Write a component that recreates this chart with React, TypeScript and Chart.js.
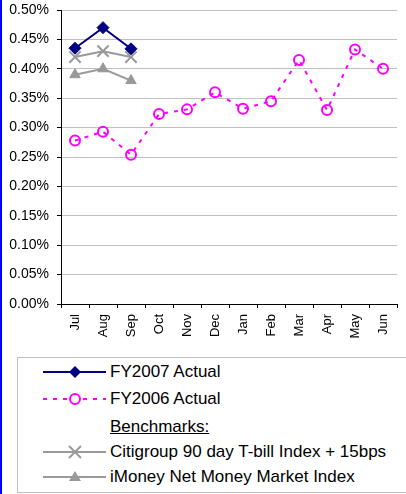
import React, { useEffect, useRef } from "react";
import { Chart, registerables } from "chart.js";

Chart.register(...registerables);

const months = ["Jul", "Aug", "Sep", "Oct", "Nov", "Dec", "Jan", "Feb", "Mar", "Apr", "May", "Jun"];
const fy2007 = [0.435, 0.47, 0.434, null, null, null, null, null, null, null, null, null];
const fy2006 = [0.278, 0.293, 0.254, 0.323, 0.331, 0.36, 0.332, 0.345, 0.415, 0.33, 0.433, 0.4];
const citi = [0.42, 0.43, 0.42, null, null, null, null, null, null, null, null, null];
const imoney = [0.39, 0.4, 0.38, null, null, null, null, null, null, null, null, null];
const yTicks = { min: 0, max: 0.5, step: 0.05 };

const NAVY = "#000080";
const MAGENTA = "#ff00ff";
const GRAY = "#999999";
const FONT = "'Liberation Sans', Arial, sans-serif";

export default function App() {
  const ref = useRef<HTMLCanvasElement | null>(null);

  useEffect(() => {
    document.body.style.margin = "0";
    const ctx = ref.current!.getContext("2d")!;
    const chart = new Chart(ctx, {
      type: "line",
      data: {
        labels: months,
        datasets: [
          {
            label: "FY2007 Actual",
            data: fy2007,
            borderColor: NAVY,
            backgroundColor: NAVY,
            borderWidth: 2,
            pointStyle: "rectRot",
            pointRadius: 6,
            pointBorderWidth: 1,
            order: 0,
          },
          {
            label: "FY2006 Actual",
            data: fy2006,
            borderColor: MAGENTA,
            backgroundColor: "rgba(255,255,255,0)",
            borderWidth: 2,
            borderDash: [4, 6],
            pointStyle: "circle",
            pointRadius: 5,
            pointBorderWidth: 2,
            order: 3,
          },
          {
            label: "Citigroup 90 day T-bill Index + 15bps",
            data: citi,
            borderColor: GRAY,
            backgroundColor: GRAY,
            borderWidth: 2,
            pointStyle: "crossRot",
            pointRadius: 8,
            pointBorderWidth: 2,
            order: 2,
          },
          {
            label: "iMoney Net Money Market Index",
            data: imoney,
            borderColor: GRAY,
            backgroundColor: GRAY,
            borderWidth: 2,
            pointStyle: "triangle",
            pointRadius: 6,
            pointBorderWidth: 1,
            order: 1,
          },
        ],
      },
      options: {
        animation: false,
        responsive: false,
        maintainAspectRatio: false,
        spanGaps: false,
        layout: { padding: { top: 10, right: 0, left: 0, bottom: 0 } },
        plugins: { legend: { display: false }, tooltip: { enabled: false } },
        scales: {
          x: {
            offset: true,
            grid: {
              display: true,
              offset: true,
              color: "rgba(0,0,0,0)",
              tickColor: "#000",
              tickLength: 4,
              drawOnChartArea: false,
            },
            border: { color: "#000", width: 1 },
            ticks: {
              minRotation: 90,
              maxRotation: 90,
              padding: 6,
              color: "#000",
              font: { family: FONT, size: 13 },
            },
            afterFit: (s: any) => {
              s.height = 39;
            },
          },
          y: {
            min: yTicks.min,
            max: yTicks.max,
            grid: { color: "#c0c0c0", tickColor: "#000", tickLength: 4, lineWidth: 1 },
            border: { color: "#000", width: 1 },
            ticks: {
              stepSize: yTicks.step,
              padding: 8,
              color: "#000",
              font: { family: FONT, size: 14 },
              callback: (v: any) => Number(v).toFixed(2) + "%",
            },
            afterFit: (s: any) => {
              s.width = 61;
              s.paddingTop = 0;
              s.paddingBottom = 0;
            },
          },
        },
      },
    });
    return () => chart.destroy();
  }, []);

  const row = (top: number, sample: React.ReactNode, text: React.ReactNode) => (
    <div style={{ position: "absolute", left: 26, top: top - 12, height: 24, display: "flex", alignItems: "center" }}>
      <svg width={84} height={20} style={{ display: "block" }}>{sample}</svg>
      <span style={{ fontSize: 17, fontFamily: FONT, color: "#000", whiteSpace: "nowrap", lineHeight: "24px" }}>{text}</span>
    </div>
  );

  return (
    <div style={{ position: "relative", width: 406, height: 494, overflow: "hidden", background: "#fff" }}>
      <canvas ref={ref} width={407} height={343} style={{ position: "absolute", left: 0, top: 0, width: 407, height: 343 }} />
      <div style={{ position: "absolute", left: 0, top: 0, width: 2, height: 494, background: "#0000ff" }} />
      <div style={{ position: "absolute", left: 17, top: 357, width: 400, height: 136, border: "1px solid #c0c0c0", boxSizing: "border-box" }} />
      {row(372,
        <g>
          <line x1={17} y1={10} x2={80} y2={10} stroke={NAVY} strokeWidth={2} />
          <polygon points="49,4 55,10 49,16 43,10" fill={NAVY} />
        </g>,
        "FY2007 Actual")}
      {row(399,
        <g>
          <line x1={17} y1={10} x2={80} y2={10} stroke={MAGENTA} strokeWidth={2} strokeDasharray="4 6" />
          <circle cx={49} cy={10} r={5} fill="#fff" stroke={MAGENTA} strokeWidth={2} />
        </g>,
        "FY2006 Actual")}
      {row(427, null, <span style={{ textDecoration: "underline" }}>Benchmarks:</span>)}
      {row(452,
        <g>
          <line x1={17} y1={10} x2={80} y2={10} stroke={GRAY} strokeWidth={2} />
          <line x1={43} y1={4} x2={55} y2={16} stroke={GRAY} strokeWidth={2} />
          <line x1={55} y1={4} x2={43} y2={16} stroke={GRAY} strokeWidth={2} />
        </g>,
        "Citigroup 90 day T-bill Index + 15bps")}
      {row(477,
        <g>
          <line x1={17} y1={10} x2={80} y2={10} stroke={GRAY} strokeWidth={2} />
          <polygon points="49,4 55,14 43,14" fill={GRAY} />
        </g>,
        "iMoney Net Money Market Index")}
    </div>
  );
}
